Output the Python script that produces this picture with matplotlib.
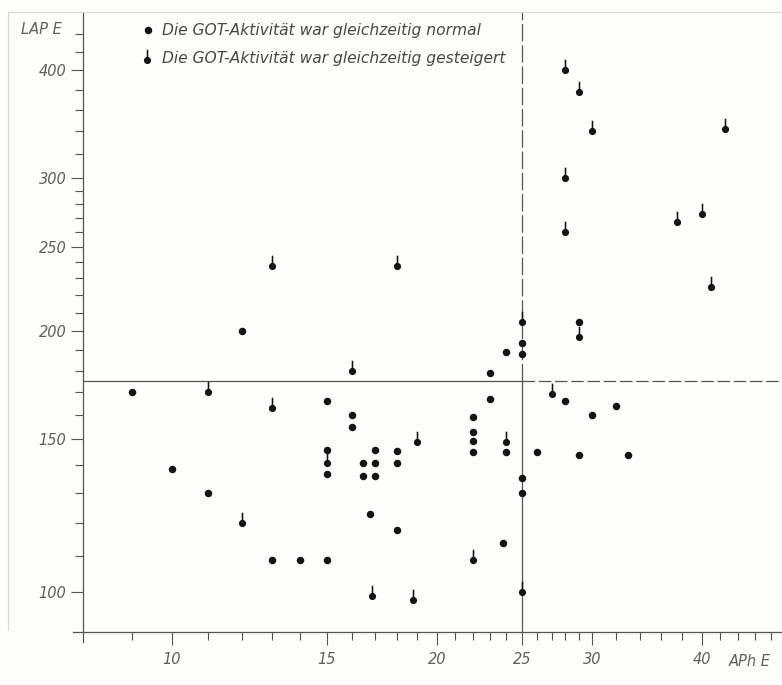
import numpy as np
import matplotlib
matplotlib.use("Agg")
import matplotlib.pyplot as plt
from matplotlib.path import Path
from matplotlib.ticker import FixedLocator, NullFormatter, FixedFormatter
from matplotlib.lines import Line2D

# ---- data (APh E, LAP E) ----
normal_x = [12, 9, 15, 16, 16, 15, 15, 10, 17, 16.5, 17, 16.5, 17, 18, 18,
            16.8, 18, 13, 14, 15, 11, 22, 22, 22, 22, 23, 24, 26, 25, 25,
            23.8, 25, 25, 24, 23, 29, 28, 32, 30, 29, 33]
normal_y = [200, 170, 166, 160, 155, 146, 137, 138.5, 146, 141, 141, 136, 136, 145.5, 141,
            123, 118, 109, 109, 109, 130, 159, 153, 149.5, 145, 167, 145, 145, 135.5, 130,
            114, 194, 188, 189, 179, 205, 166, 164, 160, 144, 144]

raised_x = [16, 11, 13, 15, 19, 16.9, 18.8, 22, 25, 27, 24, 25, 29, 28, 29, 30,
            42.5, 28, 28, 37.5, 40, 41, 13, 18, 12]
raised_y = [180, 170, 163, 141, 149, 99, 98, 109, 100, 169, 149, 205, 197, 400, 378, 340,
            342, 300, 260, 267, 273, 225, 238, 238, 120]

x_major = [10, 15, 20, 25, 30, 40]
x_minor = [9, 11, 12, 13, 14, 16, 17, 18, 19, 21, 22, 23, 24, 26, 27, 28, 29,
           32, 34, 36, 38, 42, 44, 46, 48]
y_major = [100, 150, 200, 250, 300, 400]
y_minor = [110, 120, 130, 140, 160, 170, 180, 190, 210, 220, 230, 240,
           260, 270, 280, 290, 320, 340, 360, 380, 420, 440]

x_ref = 25
y_ref = 175

legend_labels = ["Die GOT-Aktivität war gleichzeitig normal",
                 "Die GOT-Aktivität war gleichzeitig gesteigert"]

# ---- style ----
plt.rcParams['font.family'] = ['DejaVu Sans']
W, H = 782, 685
fig = plt.figure(figsize=(W / 100, H / 100), dpi=100)
fig.patch.set_facecolor('#fdfdfb')

ax = fig.add_axes([73 / W, 43 / H, (W - 73) / W, (642 - 12) / H])
ax.set_facecolor('none')
ax.set_xscale('log')
ax.set_yscale('log')
ax.set_xlim(7.72, 49.35)
ax.set_ylim(87.56, 466.9)

axis_col = '#555555'
text_col = '#606060'
for s in ['top', 'right']:
    ax.spines[s].set_visible(False)
ax.spines['left'].set_position(('data', 7.925))
ax.spines['bottom'].set_position(('data', 90))
for s in ['left', 'bottom']:
    ax.spines[s].set_color(axis_col)
    ax.spines[s].set_linewidth(0.9)

ax.xaxis.set_major_locator(FixedLocator(x_major))
ax.xaxis.set_major_formatter(FixedFormatter([str(v) for v in x_major]))
ax.xaxis.set_minor_locator(FixedLocator(x_minor))
ax.xaxis.set_minor_formatter(NullFormatter())
ax.yaxis.set_major_locator(FixedLocator(y_major))
ax.yaxis.set_major_formatter(FixedFormatter([str(v) for v in y_major]))
ax.yaxis.set_minor_locator(FixedLocator(y_minor))
ax.yaxis.set_minor_formatter(NullFormatter())

lab_font = dict(family='DejaVu Sans', style='italic', size=10.5)
ax.tick_params(which='major', direction='out', length=9, width=0.8, color=axis_col,
               labelcolor=text_col, labelsize=10.5)
ax.tick_params(which='minor', direction='out', length=5.5, width=0.8, color=axis_col)
ax.tick_params(axis='y', which='major', pad=3)
ax.tick_params(axis='x', which='major', pad=6)
for lbl in ax.get_xticklabels() + ax.get_yticklabels():
    lbl.set_fontstyle('italic')

# reference lines
line_col = '#555555'
ax.plot([x_ref, x_ref], [y_ref, 466.9], color=line_col, lw=0.9, dashes=(14, 3))
ax.plot([x_ref, x_ref], [90, y_ref], color=line_col, lw=0.9)
ax.plot([7.925, x_ref], [y_ref, y_ref], color=line_col, lw=0.9)
ax.plot([x_ref, 49.35], [y_ref, y_ref], color=line_col, lw=0.9, dashes=(10, 3))

# thermometer marker: circle with a stick on top
circ = Path.unit_circle()
w = 0.22
stick = Path([(-w, 0.3), (w, 0.3), (w, 3.0), (-w, 3.0), (-w, 0.3)],
             [Path.MOVETO, Path.LINETO, Path.LINETO, Path.LINETO, Path.CLOSEPOLY])
therm = Path.make_compound_path(circ, stick)

mk_col = '#141414'
ax.plot(normal_x, normal_y, linestyle='none', marker='o', markersize=5.4,
        color=mk_col, markeredgewidth=0, clip_on=False)
ax.plot(raised_x, raised_y, linestyle='none', marker=therm, markersize=15.5,
        color=mk_col, markeredgewidth=0, clip_on=False)

# axis titles
fig.text(41 / W, 1 - 30 / H, "LAP E", ha='center', va='center', color=text_col, **lab_font)
fig.text(750 / W, 1 - 662 / H, "APh E", ha='center', va='center', color=text_col, **lab_font)

# legend
fig.add_artist(Line2D([148 / W], [1 - 30 / H], marker='o', markersize=5.4, color=mk_col,
                      markeredgewidth=0, linestyle='none', transform=fig.transFigure))
fig.add_artist(Line2D([147 / W], [1 - 60 / H], marker=therm, markersize=15.5, color=mk_col,
                      markeredgewidth=0, linestyle='none', transform=fig.transFigure))
fig.text(162 / W, 1 - 30 / H, legend_labels[0], ha='left', va='center', color='#484848',
         family='DejaVu Sans', style='italic', size=11.2)
fig.text(162 / W, 1 - 58 / H, legend_labels[1], ha='left', va='center', color='#484848',
         family='DejaVu Sans', style='italic', size=11.2)

# faint scan border
fig.add_artist(Line2D([8 / W, 1], [1 - 12 / H, 1 - 12 / H], color='#d8d8d8', lw=0.8,
                      transform=fig.transFigure))
fig.add_artist(Line2D([8 / W, 8 / W], [0.08, 1 - 12 / H], color='#d8d8d8', lw=0.8,
                      transform=fig.transFigure))

fig.savefig('out.png', dpi=100, facecolor=fig.get_facecolor())
